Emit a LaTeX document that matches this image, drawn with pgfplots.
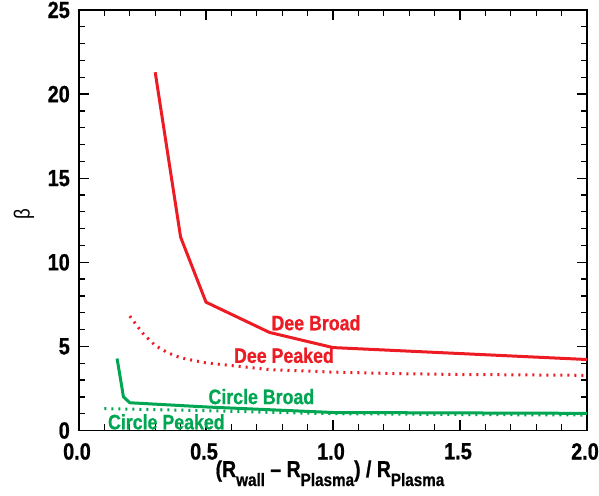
\documentclass[border=0pt]{standalone}
\usepackage{fontspec}
\setmainfont{Liberation Sans}[FakeStretch=0.85, BoldFeatures={FakeBold=0.8}]
\usepackage{pgfplots}
\pgfplotsset{compat=1.18}
\definecolor{dred}{HTML}{ED1C24}
\definecolor{dgreen}{HTML}{00A651}

\newcommand{\sub}[1]{\raisebox{-9bp}{\fontsize{18}{18}\selectfont #1}}

\begin{document}
\begin{tikzpicture}
\begin{axis}[
    width=508bp, height=420.5bp, scale only axis,
    xmin=0, xmax=2,
    ymin=0, ymax=25,
    xtick={0,0.5,1,1.5,2},
    ytick={0,5,10,15,20,25},
    minor x tick num=4,
    minor y tick num=4,
    xticklabel style={/pgf/number format/fixed, /pgf/number format/fixed zerofill,
        /pgf/number format/precision=1, inner sep=0pt, anchor=north, yshift=-12.5bp, xshift=-2bp},
    yticklabel style={inner sep=0pt, anchor=east, xshift=-9bp},
    /pgf/number format/assume math mode=true,
    tick label style={font=\fontsize{23.5}{24}\selectfont\bfseries},
    major tick length=10bp, minor tick length=6bp,
    axis line style={line width=1.5bp},
    every tick/.style={black, line width=1.3bp},
    clip mode=individual,
    xlabel={\bfseries (R\sub{wall} -- R\sub{Plasma}) / R\sub{Plasma}},
    xlabel style={at={(rel axis cs:0.494,0)}, anchor=base, yshift=-46.5bp, inner sep=0pt,
        font=\fontsize{23}{23}\selectfont},
    ylabel={β},
    ylabel style={at={(rel axis cs:0,0.515)}, anchor=center, yshift=55bp, inner sep=0pt,
        font=\fontsize{22}{22}\selectfont},
]
\coordinate (sw) at (rel axis cs:0,0);
\coordinate (ne) at (rel axis cs:1,1);

% Dee Broad
\addplot[color=dred, line width=3bp] coordinates {
    (0.3,21.3) (0.4,11.5) (0.5,7.63) (0.75,5.83) (1.0,4.93) (2.0,4.22)
};
% Dee Peaked
\addplot[color=dred, line width=3bp, dash pattern=on 2bp off 5bp] coordinates {
    (0.2,6.8) (0.25,5.8) (0.3,5.05) (0.35,4.62) (0.4,4.32) (0.5,4.02) (0.6,3.86)
    (0.75,3.62) (1.0,3.47) (1.25,3.38) (1.5,3.33) (2.0,3.28)
};
% Circle Broad
\addplot[color=dgreen, line width=3bp] coordinates {
    (0.15,4.28) (0.175,2.0) (0.2,1.65) (0.5,1.4) (1.0,1.07) (2.0,1.02)
};
% Circle Peaked
\addplot[color=dgreen, line width=3bp, dash pattern=on 2bp off 5bp] coordinates {
    (0.1,1.3) (0.2,1.27) (0.5,1.18) (0.75,1.08) (1.0,1.0) (1.5,0.95) (2.0,0.92)
};

\node[dred, anchor=base, inner sep=0pt, font=\fontsize{21}{21}\selectfont\bfseries]
    at (axis cs:0.933,5.96) {Dee Broad};
\node[dred, anchor=base, inner sep=0pt, font=\fontsize{21}{21}\selectfont\bfseries]
    at (axis cs:0.807,4.02) {Dee Peaked};
\node[dgreen, anchor=base, inner sep=0pt, font=\fontsize{21}{21}\selectfont\bfseries]
    at (axis cs:0.718,1.57) {Circle Broad};
\node[dgreen, anchor=base, inner sep=0pt, font=\fontsize{21}{21}\selectfont\bfseries]
    at (axis cs:0.344,0.07) {Circle Peaked};
\end{axis}
\pgfresetboundingbox
\path[use as bounding box] ([shift={(-79bp,-65.5bp)}]sw) rectangle ([shift={(12bp,10bp)}]ne);
\end{tikzpicture}
\end{document}
